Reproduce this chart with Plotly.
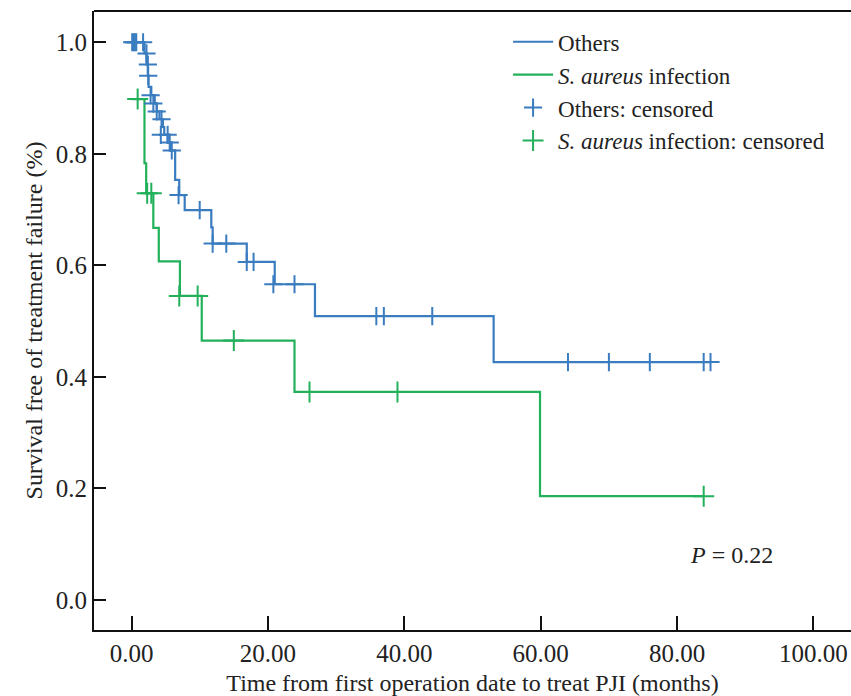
import plotly.graph_objects as go

# Kaplan-Meier step data (time in months, survival after step)
others_t = [0, 1.9, 2.2, 2.4, 2.5, 2.9, 3.4, 3.7, 4.1, 4.6, 4.8, 5.3, 5.8, 6.4, 7.0, 7.8, 11.7, 11.9, 16.9, 21.0, 26.9, 53.1, 85.0]
others_s = [1.0, 0.98, 0.96, 0.94, 0.92, 0.905, 0.89, 0.876, 0.862, 0.848, 0.834, 0.82, 0.806, 0.753, 0.726, 0.699, 0.668, 0.639, 0.606, 0.566, 0.509, 0.4265, 0.4265]

others_cens_t = [0.1, 0.3, 0.5, 0.7, 1.7, 2.2, 2.4, 2.45, 2.8, 3.2, 3.7, 4.4, 4.3, 5.3, 5.6, 5.9, 6.9, 10.0, 11.9, 13.9, 16.9, 17.9, 20.8, 23.9, 35.9, 37.0, 44.1, 64.0, 70.0, 76.0, 83.9, 84.9]
others_cens_s = [1.0, 1.0, 1.0, 1.0, 1.0, 0.98, 0.96, 0.94, 0.905, 0.89, 0.876, 0.862, 0.834, 0.834, 0.82, 0.806, 0.726, 0.699, 0.639, 0.639, 0.606, 0.606, 0.566, 0.566, 0.509, 0.509, 0.509, 0.4265, 0.4265, 0.4265, 0.4265, 0.4265]

aureus_t = [0, 1.9, 2.15, 3.2, 4.0, 7.1, 10.3, 23.9, 59.9, 84.0]
aureus_s = [0.898, 0.783, 0.729, 0.667, 0.607, 0.545, 0.465, 0.373, 0.186, 0.186]

aureus_cens_t = [0.9, 2.3, 2.9, 7.0, 9.7, 15.0, 26.1, 39.0, 83.9]
aureus_cens_s = [0.898, 0.729, 0.729, 0.545, 0.545, 0.465, 0.373, 0.373, 0.186]

x_ticks = [0, 20, 40, 60, 80, 100]
y_ticks = [0.0, 0.2, 0.4, 0.6, 0.8, 1.0]

BLUE = "#3a7cc0"
GREEN = "#22b05a"
FONT = "Liberation Serif"
FS = 24

fig = go.Figure()
fig.add_trace(go.Scatter(x=others_t, y=others_s, mode="lines", line_shape="hv",
                         line=dict(color=BLUE, width=2.2), name="Others"))
fig.add_trace(go.Scatter(x=aureus_t, y=aureus_s, mode="lines", line_shape="hv",
                         line=dict(color=GREEN, width=2.2), name="<i>S. aureus</i> infection"))
fig.add_trace(go.Scatter(x=others_cens_t, y=others_cens_s, mode="markers",
                         marker=dict(symbol="cross-thin", size=13, color=BLUE,
                                     line=dict(color=BLUE, width=2)),
                         name="Others: censored"))
fig.add_trace(go.Scatter(x=aureus_cens_t, y=aureus_cens_s, mode="markers",
                         marker=dict(symbol="cross-thin", size=15, color=GREEN,
                                     line=dict(color=GREEN, width=2)),
                         name="<i>S. aureus</i> infection: censored"))

fig.update_layout(
    width=851, height=696,
    margin=dict(l=94, r=0, t=11, b=66),
    paper_bgcolor="white", plot_bgcolor="white",
    font=dict(family=FONT, size=FS, color="#222"),
    legend=dict(x=0.547, y=0.985, xanchor="left", yanchor="top",
                bgcolor="rgba(0,0,0,0)", font=dict(size=23, family=FONT),
                itemwidth=40, tracegroupgap=0),
    xaxis=dict(range=[-5.5, 105.5], tickvals=x_ticks, tickformat=".2f",
               ticks="inside", ticklen=14, tickwidth=2, tickcolor="#111",
               tickfont=dict(size=25),
               showline=True, linecolor="#111", linewidth=2,
               showgrid=False, zeroline=False,
               title=dict(text="Time from first operation date to treat PJI (months)",
                          font=dict(size=FS, family=FONT), standoff=8)),
    yaxis=dict(range=[-0.054, 1.056], tickvals=y_ticks, tickformat=".1f",
               ticks="inside", ticklen=12, tickwidth=2, tickcolor="#111",
               tickfont=dict(size=25),
               showline=True, linecolor="#111", linewidth=2,
               showgrid=False, zeroline=False,
               title=dict(text="Survival free of treatment failure (%)",
                          font=dict(size=FS, family=FONT), standoff=6)),
    shapes=[dict(type="line", xref="paper", yref="paper", x0=0, x1=1, y0=1, y1=1,
                 line=dict(color="#111", width=2))],
    annotations=[dict(x=88.0, y=0.08, xref="x", yref="y", showarrow=False,
                      text="<i>P</i> = 0.22", font=dict(size=FS, family=FONT),
                      xanchor="center")],
)

fig.write_html("out.html")
